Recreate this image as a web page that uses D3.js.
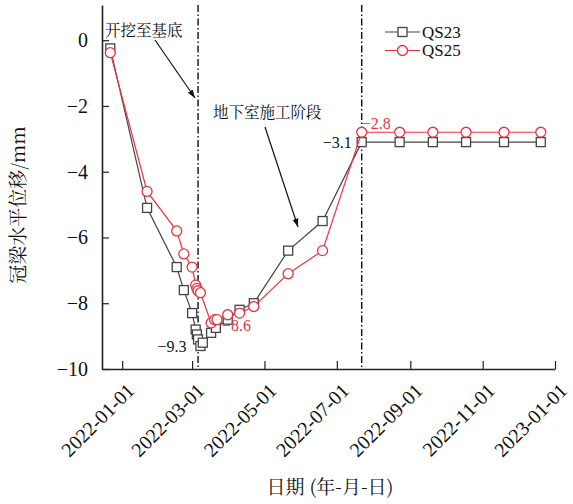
<!DOCTYPE html>
<html>
<head>
<meta charset="utf-8">
<script src="https://cdn.jsdelivr.net/npm/d3@7"></script>
<style>
  body { margin: 0; background: #fff; }
  svg { display: block; }
</style>
</head>
<body>
<svg id="chart" width="573" height="504"></svg>
<script>
// data
const datesQS23 = ["2021-12-22","2022-01-22","2022-02-16","2022-02-22","2022-03-01","2022-03-04","2022-03-05","2022-03-06","2022-03-08","2022-03-10",
  "2022-03-17","2022-03-21","2022-03-31","2022-04-10","2022-04-22","2022-05-21","2022-06-19","2022-07-22",
  "2022-08-23","2022-09-20","2022-10-18","2022-11-19","2022-12-20"];
const valuesQS23 = [-0.25,-5.1,-6.9,-7.6,-8.3,-8.8,-8.95,-9.1,-9.3,-9.2,
  -8.9,-8.75,-8.5,-8.2,-8.0,-6.4,-5.5,-3.1,
  -3.1,-3.1,-3.1,-3.1,-3.1];

const datesQS25 = ["2021-12-22","2022-01-22","2022-02-16","2022-02-22","2022-03-01","2022-03-04","2022-03-05","2022-03-06","2022-03-08",
  "2022-03-17","2022-03-20","2022-03-22","2022-03-31","2022-04-10","2022-04-22","2022-05-21","2022-06-19","2022-07-22",
  "2022-08-23","2022-09-20","2022-10-18","2022-11-19","2022-12-20"];
const valuesQS25 = [-0.38,-4.6,-5.8,-6.5,-6.9,-7.45,-7.55,-7.62,-7.68,
  -8.6,-8.5,-8.5,-8.35,-8.3,-8.1,-7.1,-6.4,-2.8,
  -2.8,-2.8,-2.8,-2.8,-2.8];

const xTickDates = ["2022-01-01","2022-03-01","2022-05-01","2022-07-01","2022-09-01","2022-11-01","2023-01-01"];
const yTicks = [0, -2, -4, -6, -8, -10];
const stageDates = ["2022-03-06", "2022-07-22"];

const parse = d3.timeParse("%Y-%m-%d");
const fmt = d3.timeFormat("%Y-%m-%d");

const svg = d3.select("#chart");
const plotLeft = 102, plotRight = 555, plotTop = 5, plotBottom = 369;

const x = d3.scaleTime()
  .domain([parse("2021-12-15"), parse("2023-01-01")])
  .range([plotLeft, plotRight]);
const y = d3.scaleLinear()
  .domain([-10, 1.07])
  .range([plotBottom, plotTop]);

const serif = "\"Liberation Serif\", \"Times New Roman\", monospace";
const cjk = "\"Noto Serif CJK SC\", \"Noto Sans CJK SC\", monospace";

// arrow marker
svg.append("defs").append("marker")
  .attr("id", "arrow")
  .attr("viewBox", "0 0 10 10")
  .attr("refX", 10).attr("refY", 5)
  .attr("markerWidth", 7).attr("markerHeight", 7)
  .attr("orient", "auto")
  .append("path")
  .attr("d", "M0,1.5 L10,5 L0,8.5 Z")
  .attr("fill", "#111");

// stage lines (dash-dot)
svg.selectAll(".stage")
  .data(stageDates)
  .enter()
  .append("line")
  .attr("class", "stage")
  .attr("x1", d => x(parse(d))).attr("x2", d => x(parse(d)))
  .attr("y1", plotTop).attr("y2", plotBottom)
  .attr("stroke", "#111")
  .attr("stroke-width", 1.4)
  .attr("stroke-dasharray", "7,2.5,1.5,2.5");

// axes
const xAxis = d3.axisBottom(x)
  .tickValues(xTickDates.map(parse))
  .tickFormat(fmt)
  .tickSizeInner(-8).tickSizeOuter(0);
const yAxis = d3.axisLeft(y)
  .tickValues(yTicks)
  .tickFormat(d3.format("d"))
  .tickSizeInner(-7).tickSizeOuter(0);

const gx = svg.append("g")
  .attr("transform", `translate(0,${plotBottom})`)
  .call(xAxis);
gx.select(".domain").attr("stroke", "#222").attr("stroke-width", 1.6);
gx.selectAll(".tick line").attr("stroke", "#222").attr("stroke-width", 1.2);
gx.selectAll("text")
  .attr("transform", "translate(8,18) rotate(-45)")
  .attr("dy", "0.35em")
  .attr("y", 0).attr("x", 0)
  .style("text-anchor", "end")
  .style("font-family", serif)
  .style("font-size", "20px")
  .style("fill", "#111");

const gy = svg.append("g")
  .attr("transform", `translate(${plotLeft},0)`)
  .call(yAxis);
gy.select(".domain").attr("stroke", "#222").attr("stroke-width", 1.6);
gy.selectAll(".tick line").attr("stroke", "#222").attr("stroke-width", 1.2);
gy.selectAll("text")
  .attr("x", -14)
  .style("font-family", serif)
  .style("font-size", "20px")
  .style("fill", "#111");

// axis titles
svg.append("text")
  .attr("x", 330).attr("y", 494)
  .attr("text-anchor", "middle")
  .style("font-family", cjk)
  .style("font-size", "19px")
  .style("fill", "#111")
  .text("日期 (年-月-日)");

svg.append("text")
  .attr("transform", "translate(25,205) rotate(-90)")
  .attr("text-anchor", "middle")
  .style("font-family", cjk)
  .style("font-size", "19px")
  .style("fill", "#111")
  .text("冠梁水平位移/mm");

// series
const series = [
  { name: "QS23", dates: datesQS23, values: valuesQS23, color: "#444", shape: "square" },
  { name: "QS25", dates: datesQS25, values: valuesQS25, color: "#e8333f", shape: "circle" }
];

const line = d3.line()
  .x(d => x(d.date))
  .y(d => y(d.value));

series.forEach(s => {
  const pts = s.dates.map((d, i) => ({ date: parse(d), value: s.values[i] }));
  const g = svg.append("g").attr("class", "series " + s.name);
  g.append("path")
    .datum(pts)
    .attr("d", line)
    .attr("fill", "none")
    .attr("stroke", s.color)
    .attr("stroke-width", 1.2);
  if (s.shape === "square") {
    g.selectAll("rect")
      .data(pts)
      .enter()
      .append("rect")
      .attr("x", d => x(d.date) - 4.5)
      .attr("y", d => y(d.value) - 4.5)
      .attr("width", 9).attr("height", 9)
      .attr("fill", "#fff")
      .attr("stroke", s.color)
      .attr("stroke-width", 1.3);
  } else {
    g.selectAll("circle")
      .data(pts)
      .enter()
      .append("circle")
      .attr("cx", d => x(d.date))
      .attr("cy", d => y(d.value))
      .attr("r", 5)
      .attr("fill", "#fff")
      .attr("stroke", s.color)
      .attr("stroke-width", 1.3);
  }
});

// legend
const legend = svg.append("g").attr("transform", "translate(385,32)");
series.forEach((s, i) => {
  const row = legend.append("g").attr("transform", `translate(0,${i * 18.5})`);
  row.append("line")
    .attr("x1", 0).attr("x2", 35).attr("y1", 0).attr("y2", 0)
    .attr("stroke", s.color).attr("stroke-width", 1.2);
  if (s.shape === "square") {
    row.append("rect").attr("x", 13).attr("y", -4.5).attr("width", 9).attr("height", 9)
      .attr("fill", "#fff").attr("stroke", s.color).attr("stroke-width", 1.3);
  } else {
    row.append("circle").attr("cx", 17.5).attr("cy", 0).attr("r", 5)
      .attr("fill", "#fff").attr("stroke", s.color).attr("stroke-width", 1.3);
  }
  row.append("text")
    .attr("x", 37).attr("y", 0).attr("dy", "0.35em")
    .style("font-family", serif)
    .style("font-size", "17px")
    .style("fill", "#111")
    .text(s.name);
});

// value labels
const valueLabels = [
  { text: "−9.3", date: "2022-03-08", value: -9.3, dx: -14, dy: 6, anchor: "end", color: "#111" },
  { text: "−8.6", date: "2022-03-17", value: -8.6, dx: 11, dy: 8, anchor: "start", color: "#e8333f" },
  { text: "−3.1", date: "2022-07-22", value: -3.1, dx: -10, dy: 6, anchor: "end", color: "#111" },
  { text: "−2.8", date: "2022-07-22", value: -2.8, dx: 0, dy: -3, anchor: "start", color: "#e8333f" }
];
svg.selectAll(".vlabel")
  .data(valueLabels)
  .enter()
  .append("text")
  .attr("class", "vlabel")
  .attr("x", d => x(parse(d.date)) + d.dx)
  .attr("y", d => y(d.value) + d.dy)
  .attr("text-anchor", d => d.anchor)
  .style("font-family", serif)
  .style("font-size", "16px")
  .style("fill", d => d.color)
  .text(d => d.text);

// stage annotations with arrows
const notes = [
  { text: "开挖至基底", tx: 105, ty: 36, from: [155, 40], to: [195, 98] },
  { text: "地下室施工阶段", tx: 213, ty: 118, from: [265, 127], to: [298, 227] }
];
notes.forEach(n => {
  svg.append("text")
    .attr("x", n.tx).attr("y", n.ty)
    .style("font-family", cjk)
    .style("font-size", "15.5px")
    .style("fill", "#111")
    .text(n.text);
  svg.append("line")
    .attr("x1", n.from[0]).attr("y1", n.from[1])
    .attr("x2", n.to[0]).attr("y2", n.to[1])
    .attr("stroke", "#111")
    .attr("stroke-width", 1.2)
    .attr("marker-end", "url(#arrow)");
});
</script>
</body>
</html>
